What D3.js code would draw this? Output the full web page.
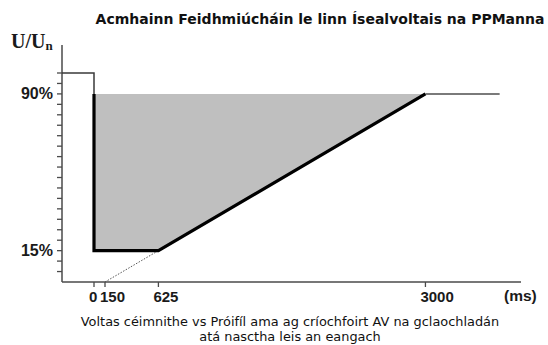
<!DOCTYPE html>
<html>
<head>
<meta charset="utf-8">
<script src="https://cdn.jsdelivr.net/npm/d3@7"></script>
<style>
  html, body { margin: 0; padding: 0; background: #fff; }
  svg { display: block; }
</style>
</head>
<body>
<svg id="chart" width="548" height="345"></svg>
<script>
// Fault-ride-through envelope: voltage (% of nominal) against time (ms)
const title = "Acmhainn Feidhmiúcháin le linn Ísealvoltais na PPManna";
const captionLines = [
  "Voltas céimnithe vs Próifíl ama ag críochfoirt AV na gclaochladán",
  "atá nasctha leis an eangach"
];

// time breakpoints (ms) and their voltage levels (%)
const faultTimes    = [0, 0, 625, 3000];
const faultVoltages = [90, 15, 15, 90];
const preFaultTimes    = [-300, 0, 0];
const preFaultVoltages = [100, 100, 90];
const recoveryTimes    = [3000, 3660];
const recoveryVoltages = [90, 90];
const extrapTimes    = [150, 625];
const extrapVoltages = [0, 15];

const xTicks = [0, 150, 625, 3000];
const yTickValues = d3.range(5, 101, 5);
const yLabelled = [90, 15];

const svg = d3.select("#chart");

// piecewise time axis: the short pre-fault stretch is drawn compressed
const x = d3.scaleLinear()
  .domain([-300, 0, 150, 3850])
  .range([62, 94, 105, 521]);
const y = d3.scaleLinear().domain([0, 100]).range([282, 73]);

const pts = (ts, vs) => ts.map((t, i) => [x(t), y(vs[i])]);
const line = d3.line();

// shaded withstand area
svg.append("path")
  .attr("d", line(pts(faultTimes, faultVoltages)) + "Z")
  .attr("fill", "#bfbfbf");

// axes
const axisColor = "#4a4a4a";
svg.append("line")
  .attr("x1", x(-300)).attr("x2", x(-300))
  .attr("y1", 45).attr("y2", y(0))
  .attr("stroke", axisColor).attr("stroke-width", 1.5);
svg.append("line")
  .attr("x1", x(-300)).attr("x2", x(3850))
  .attr("y1", y(0)).attr("y2", y(0))
  .attr("stroke", axisColor).attr("stroke-width", 1.5);

// y ticks every 5 %
svg.append("g").selectAll("line").data(yTickValues).join("line")
  .attr("x1", x(-300) - 5).attr("x2", x(-300))
  .attr("y1", d => y(d)).attr("y2", d => y(d))
  .attr("stroke", axisColor).attr("stroke-width", 1.3);

svg.append("g").selectAll("text").data(yLabelled).join("text")
  .attr("x", 53).attr("y", d => y(d) + 5.5)
  .attr("text-anchor", "end")
  .attr("font-family", "Liberation Sans, Arial, sans-serif")
  .attr("font-weight", "bold").attr("font-size", 16)
  .attr("fill", "#1a1a1a")
  .text(d => d + "%");

// x ticks
svg.append("g").selectAll("line").data(xTicks).join("line")
  .attr("x1", d => x(d)).attr("x2", d => x(d))
  .attr("y1", y(0)).attr("y2", y(0) + 5)
  .attr("stroke", axisColor).attr("stroke-width", 1.3);

svg.append("g").selectAll("text").data(xTicks).join("text")
  .attr("x", d => x(d) - 5).attr("y", 302)
  .attr("font-family", "Liberation Sans, Arial, sans-serif")
  .attr("font-weight", "bold").attr("font-size", 15)
  .attr("fill", "#1a1a1a")
  .text(d => d);

svg.append("text")
  .attr("x", 504).attr("y", 301)
  .attr("font-family", "Liberation Sans, Arial, sans-serif")
  .attr("font-weight", "bold").attr("font-size", 15.5)
  .attr("fill", "#1a1a1a")
  .text("(ms)");

// axis title U/Un
const yt = svg.append("text")
  .attr("x", 11).attr("y", 48)
  .attr("font-family", "Liberation Serif, Times New Roman, serif")
  .attr("font-weight", "bold").attr("font-size", 20)
  .attr("fill", "#1a1a1a");
yt.append("tspan").text("U/U");
yt.append("tspan").attr("font-size", 13).attr("dy", 2).text("n");

// extrapolated recovery slope (dotted)
svg.append("path")
  .attr("d", line(pts(extrapTimes, extrapVoltages)))
  .attr("fill", "none").attr("stroke", "#555")
  .attr("stroke-width", 1).attr("stroke-dasharray", "1.5,1.5");

// pre-fault and post-recovery voltage (thin)
svg.append("path")
  .attr("d", line(pts(preFaultTimes, preFaultVoltages)))
  .attr("fill", "none").attr("stroke", "#3a3a3a").attr("stroke-width", 1.5);
svg.append("path")
  .attr("d", line(pts(recoveryTimes, recoveryVoltages)))
  .attr("fill", "none").attr("stroke", "#7a7a7a").attr("stroke-width", 2);

// fault envelope (thick)
svg.append("path")
  .attr("d", line(pts(faultTimes, faultVoltages)))
  .attr("fill", "none").attr("stroke", "#000")
  .attr("stroke-width", 3.2).attr("stroke-linejoin", "miter");

// title
svg.append("text")
  .attr("x", 320).attr("y", 24)
  .attr("text-anchor", "middle")
  .attr("font-family", "DejaVu Sans, sans-serif")
  .attr("font-weight", "bold").attr("font-size", 14)
  .attr("fill", "#111")
  .text(title);

// caption
svg.append("g").selectAll("text").data(captionLines).join("text")
  .attr("x", 290).attr("y", (d, i) => 326 + i * 15)
  .attr("text-anchor", "middle")
  .attr("font-family", "DejaVu Sans, sans-serif")
  .attr("font-size", 12.9)
  .attr("fill", "#111")
  .text(d => d);
</script>
</body>
</html>
